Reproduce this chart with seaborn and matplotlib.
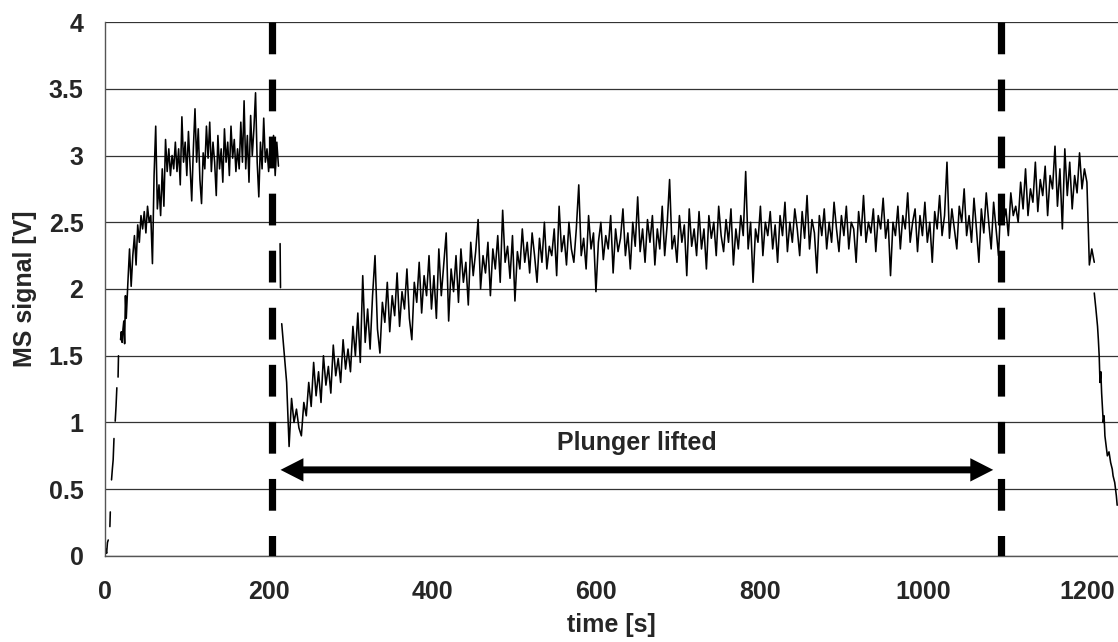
import numpy as np
import pandas as pd
import matplotlib
matplotlib.use("Agg")
import matplotlib.pyplot as plt
from matplotlib.patches import FancyArrow
import seaborn as sns

# start-up transient, the logged trace has gaps here
t_start = [0, 1, 2, 3, 4, 6, 6.5, 8, 9, 10, 11, 12.5, 13.5, 14.5, 16, 16.5,
           19, 20, 21, 22, 23, 24, 25, 26]
v_start = [0.0, 0.05, 0.02, 0.1, 0.12, 0.22, 0.33, 0.57, 0.65, 0.72, 0.88,
           1.01, 1.12, 1.26, 1.34, 1.5, 1.62, 1.68, 1.6, 1.7, 1.76, 1.59, 1.95, 1.78]
seg_start = [0, 0, 0, 0, 0, 1, 1, 2, 2, 2, 2, 3, 3, 3, 4, 4,
             5, 5, 5, 5, 5, 5, 5, 5]

# plateau before the plunger is lifted, every 2 s from 28 s
v_plateau = [2.05, 2.3, 2.02, 2.25, 2.4, 2.18, 2.48, 2.35, 2.55, 2.45,
             2.58, 2.42, 2.62, 2.5, 2.55, 2.19, 2.85, 3.22, 2.6, 2.78,
             2.55, 2.9, 2.62, 3.12, 2.88, 3.05, 2.85, 3.0, 2.9, 3.1,
             2.88, 3.05, 2.78, 3.29, 2.95, 3.1, 2.85, 3.18, 2.92, 2.66,
             3.05, 3.35, 2.95, 3.2, 2.82, 2.64, 3.02, 2.9, 3.22, 2.98,
             3.25, 2.88, 3.1, 2.95, 2.7, 3.15, 2.9, 3.05, 2.8, 3.2,
             2.95, 3.1, 2.85, 3.22, 2.98, 3.12, 2.88, 3.05, 2.9, 3.25,
             2.95, 3.41, 2.9, 3.15, 2.8, 3.3, 3.0, 3.2, 3.47, 2.95,
             2.69, 3.1, 2.9, 3.28, 2.95, 3.05, 2.88, 3.12, 2.95, 3.15,
             2.85, 3.1, 2.92]

# short blip just after the first marker
t_blip = [214, 214.5]
v_blip = [2.34, 2.01]

# recovery while the plunger is lifted, every 3 s from 216 s
v_lifted = [1.74, 1.52, 1.30, 0.82, 1.18, 1.0, 1.1, 0.96, 0.9, 1.15,
            1.05, 1.3, 1.12, 1.45, 1.2, 1.38, 1.15, 1.5, 1.28, 1.42,
            1.22, 1.58, 1.35, 1.48, 1.3, 1.62, 1.4, 1.55, 1.38, 1.72,
            1.5, 1.82, 1.45, 2.1, 1.6, 1.85, 1.55, 1.95, 2.25, 1.7,
            1.52, 1.9, 1.75, 2.05, 1.68, 1.95, 1.8, 2.12, 1.72, 1.98,
            1.85, 2.15, 1.78, 1.62, 2.05, 1.9, 2.2, 1.82, 2.1, 1.95,
            2.25, 1.85, 2.1, 1.78, 2.3, 1.95, 2.18, 2.42, 1.76, 2.15,
            1.98, 2.25, 1.9, 2.3, 2.05, 2.2, 1.88, 2.35, 2.1, 2.28,
            2.52, 2.0, 2.25, 2.12, 2.35, 1.95, 2.3, 2.15, 2.4, 2.05,
            2.59, 2.2, 2.32, 2.08, 2.4, 1.91, 2.28, 2.15, 2.45, 2.2,
            2.35, 2.12, 2.42, 2.25, 2.05, 2.38, 2.2, 2.5, 2.15, 2.32,
            2.25, 2.45, 2.1, 2.62, 2.28, 2.4, 2.18, 2.5, 2.3, 2.2,
            2.45, 2.78, 2.25, 2.38, 2.15, 2.55, 2.3, 2.42, 1.98, 2.35,
            2.5, 2.22, 2.4, 2.3, 2.55, 2.12, 2.45, 2.28, 2.38, 2.6,
            2.25, 2.42, 2.15, 2.5, 2.32, 2.69, 2.28, 2.45, 2.2, 2.52,
            2.35, 2.55, 2.18, 2.45, 2.3, 2.62, 2.25, 2.48, 2.82, 2.3,
            2.4, 2.2, 2.55, 2.35, 2.48, 2.1, 2.6, 2.32, 2.45, 2.25,
            2.58, 2.3, 2.45, 2.15, 2.55, 2.38, 2.5, 2.25, 2.62, 2.4,
            2.28, 2.52, 2.35, 2.6, 2.18, 2.45, 2.3, 2.55, 2.4, 2.88,
            2.3, 2.5, 2.05, 2.45, 2.35, 2.62, 2.25, 2.5, 2.4, 2.58,
            2.3, 2.48, 2.2, 2.55, 2.4, 2.65, 2.28, 2.5, 2.35, 2.6,
            2.45, 2.25, 2.58, 2.38, 2.7, 2.3, 2.52, 2.42, 2.12, 2.55,
            2.4, 2.6, 2.3, 2.5, 2.35, 2.65, 2.45, 2.28, 2.55, 2.4,
            2.62, 2.3, 2.5, 2.45, 2.2, 2.58, 2.4, 2.7, 2.35, 2.5,
            2.42, 2.6, 2.28, 2.55, 2.45, 2.68, 2.38, 2.52, 2.1, 2.5,
            2.4, 2.62, 2.3, 2.55, 2.45, 2.72, 2.35, 2.5, 2.6, 2.28,
            2.55, 2.4, 2.65, 2.35, 2.5, 2.2, 2.58, 2.45, 2.7, 2.4,
            2.55, 2.95, 2.38, 2.6, 2.45, 2.3, 2.62, 2.5, 2.75, 2.4,
            2.55, 2.35, 2.68, 2.45, 2.2, 2.6, 2.42, 2.72, 2.5, 2.3,
            2.65, 2.45, 2.25, 2.7, 2.5, 2.6, 2.4, 2.72, 2.55, 2.62,
            2.5, 2.8, 2.6, 2.9, 2.55, 2.75, 2.65, 2.95, 2.58, 2.82,
            2.7, 2.92, 2.55, 2.85, 2.75, 3.07, 2.62, 2.9, 2.45, 3.05,
            2.7, 2.95, 2.6, 2.85, 2.72, 3.02, 2.75, 2.9, 2.8, 2.18,
            2.3, 2.2]

# fall-off at the end of the run
t_fall = [1209, 1211, 1213, 1214, 1215, 1216, 1217, 1218, 1220, 1221,
          1222, 1224, 1225, 1227, 1229, 1231, 1232, 1234, 1236, 1237]
v_fall = [1.97, 1.85, 1.72, 1.62, 1.5, 1.3, 1.38, 1.22, 1.0, 1.05,
          0.9, 0.8, 0.75, 0.78, 0.7, 0.65, 0.6, 0.55, 0.45, 0.38]

x_ticks = [0, 200, 400, 600, 800, 1000, 1200]
y_ticks = [0, 0.5, 1, 1.5, 2, 2.5, 3, 3.5, 4]
y_ticklabels = ["0", "0.5", "1", "1.5", "2", "2.5", "3", "3.5", "4"]

markers = [204, 1095]          # plunger lifted / lowered
arrow_x = (214.5, 1085.5)
arrow_y = 0.645
label_text = "Plunger lifted"

# assemble one long frame, one unit per unbroken piece of trace
t_plateau = 28 + 2 * np.arange(len(v_plateau))
t_lifted = 216 + 3 * np.arange(len(v_lifted))
parts = [
    pd.DataFrame({"time": t_start, "signal": v_start, "seg": seg_start}),
    pd.DataFrame({"time": t_plateau, "signal": v_plateau, "seg": 5}),
    pd.DataFrame({"time": t_blip, "signal": v_blip, "seg": 6}),
    pd.DataFrame({"time": t_lifted, "signal": v_lifted, "seg": 7}),
    pd.DataFrame({"time": t_fall, "signal": v_fall, "seg": 8}),
]
df = pd.concat(parts, ignore_index=True)

sns.set_style("white")
plt.rcParams["font.family"] = ["Liberation Sans", "DejaVu Sans"]
plt.rcParams["font.weight"] = "bold"

fig = plt.figure(figsize=(11.18, 6.42), dpi=100)
ax = fig.add_axes([0.0939, 0.134, 0.9061, 0.8317])

sns.lineplot(data=df, x="time", y="signal", units="seg", estimator=None,
             color="black", linewidth=1.15, ax=ax, sort=False)

for m in markers:
    ax.plot([m, m], [4, 0], color="black", linewidth=5.2,
            dashes=(4.4, 3.5), solid_capstyle="butt", dash_capstyle="butt",
            zorder=3)

# double headed arrow: full arrow to the right, plus a bare head on the left
head_len = 28
left_base = arrow_x[0] + head_len
ax.add_patch(FancyArrow(left_base - 2, arrow_y, arrow_x[1] - left_base + 2, 0,
                        width=0.052, head_width=0.175, head_length=head_len,
                        length_includes_head=True, color="black", lw=0, zorder=4))
ax.add_patch(FancyArrow(left_base, arrow_y, arrow_x[0] - left_base, 0,
                        width=0.052, head_width=0.175, head_length=head_len,
                        length_includes_head=True, color="black", lw=0, zorder=4))
ax.text(650, 0.85, label_text, ha="center", va="center", fontsize=18,
        fontweight="bold")

ax.set_xlim(0, 1238)
ax.set_ylim(0, 4)
ax.set_xticks(x_ticks)
ax.set_yticks(y_ticks)
ax.set_yticklabels(y_ticklabels)
ax.tick_params(axis="both", labelsize=18, length=6.5, width=1, color="#555555",
               direction="out")
ax.tick_params(axis="x", pad=11)
ax.tick_params(axis="y", pad=9)
ax.grid(axis="y", color="#333333", linewidth=0.9)
ax.grid(axis="x", visible=False)

for s in ["top", "right"]:
    ax.spines[s].set_visible(False)
for s in ["left", "bottom"]:
    ax.spines[s].set_color("#555555")
    ax.spines[s].set_linewidth(1)

ax.set_xlabel("time [s]", fontsize=18, fontweight="bold", labelpad=6)
ax.set_ylabel("MS signal [V]", fontsize=18, fontweight="bold", labelpad=8)

fig.savefig("out.png", dpi=100)
